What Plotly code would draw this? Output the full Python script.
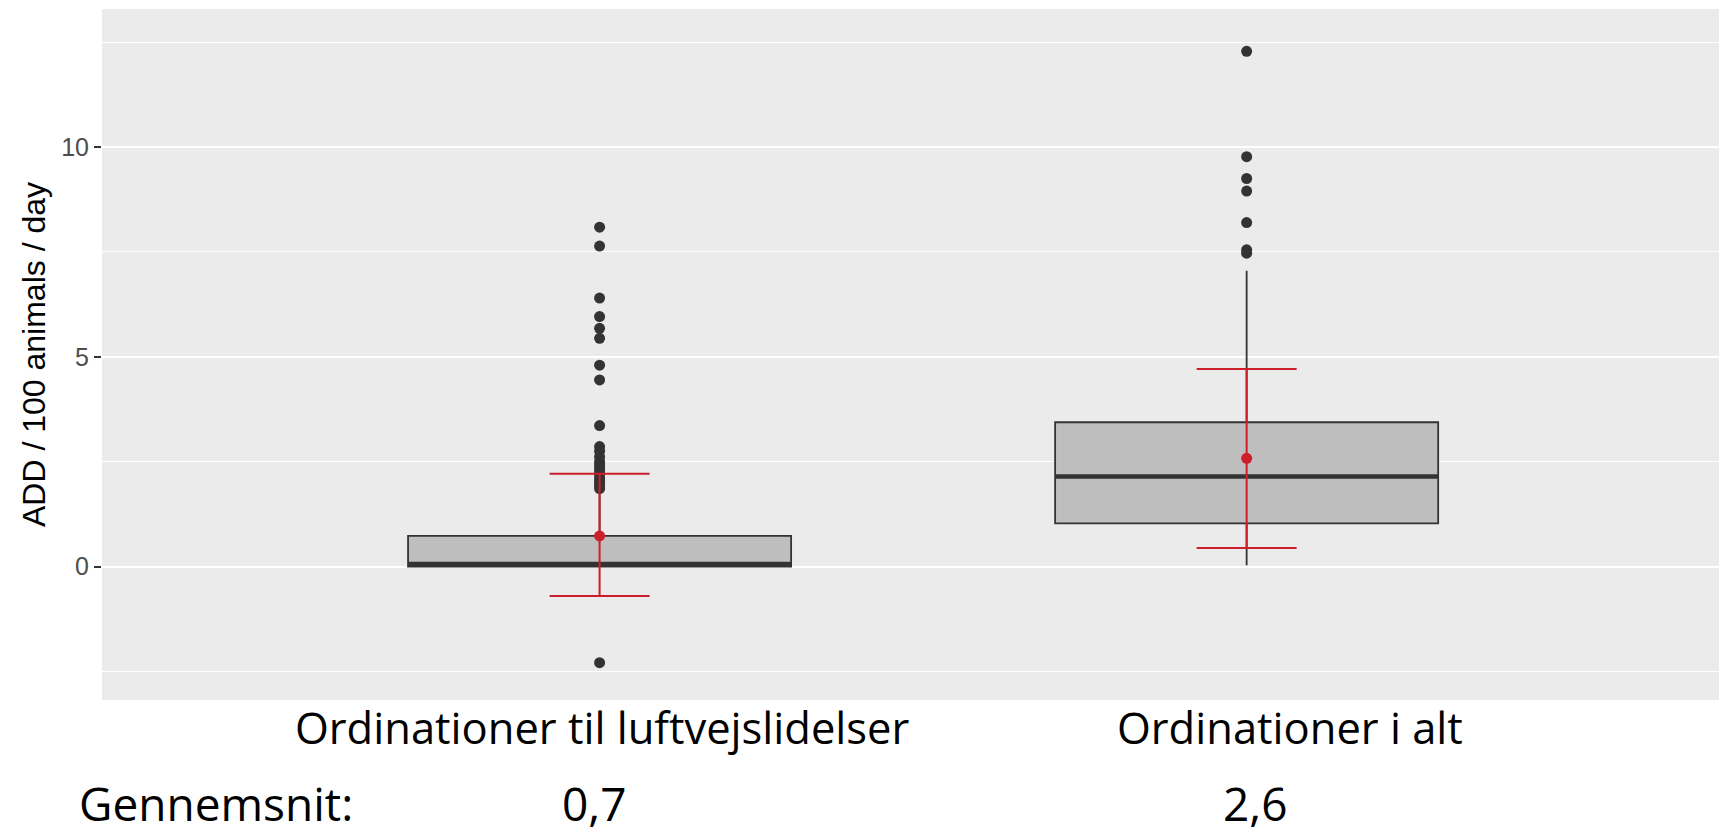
import plotly.graph_objects as go

# ---------------- data ----------------
categories = ["Ordinationer til luftvejslidelser", "Ordinationer i alt"]
cat_pos = [1, 2]
mean_labels = ["0,7", "2,6"]

q1 = [0.0, 1.03]
median = [0.06, 2.15]
q3 = [0.73, 3.44]
lower_whisker = [0.0, 0.03]
upper_whisker = [1.78, 7.05]

outliers_1 = [8.09, 7.64, 6.40, 5.96, 5.68, 5.44, 4.80, 4.45, 3.36, 2.86, 2.75, 2.62,
              2.50, 2.42, 2.35, 2.27, 2.20, 2.12, 2.05, 1.98, 1.92, 1.86, -2.29]
outliers_2 = [12.28, 9.77, 9.25, 8.95, 8.20, 7.55, 7.47]

means = [0.73, 2.58]
err_low = [-0.70, 0.44]
err_high = [2.21, 4.71]

y_ticks = [0, 5, 10]

# ---------------- style ----------------
BOX_W = 0.592
DARK = "#333333"
RED = "#CC1F2A"
LABEL_SHIFT = [2, 43]
MEAN_SHIFT = [-5, 9]

fig = go.Figure()

for i in range(2):
    fig.add_trace(go.Box(
        x=[cat_pos[i]], q1=[q1[i]], median=[median[i]], q3=[q3[i]],
        lowerfence=[lower_whisker[i]], upperfence=[upper_whisker[i]],
        width=BOX_W, whiskerwidth=0, fillcolor="#BEBEBE",
        line=dict(color=DARK, width=1.8), boxpoints=False,
        showlegend=False, hoverinfo="skip",
    ))
    # thicker median line (ggplot style)
    fig.add_trace(go.Scatter(
        x=[cat_pos[i] - BOX_W / 2, cat_pos[i] + BOX_W / 2],
        y=[median[i], median[i]], mode="lines",
        line=dict(color=DARK, width=4.5), showlegend=False, hoverinfo="skip",
    ))

out_x = [cat_pos[0]] * len(outliers_1) + [cat_pos[1]] * len(outliers_2)
out_y = outliers_1 + outliers_2
fig.add_trace(go.Scatter(
    x=out_x, y=out_y, mode="markers",
    marker=dict(color=DARK, size=11, line=dict(width=0)),
    showlegend=False, hoverinfo="skip",
))

fig.add_trace(go.Scatter(
    x=cat_pos, y=means, mode="markers",
    marker=dict(color=RED, size=11, line=dict(width=0)),
    error_y=dict(type="data", symmetric=False,
                 array=[h - m for h, m in zip(err_high, means)],
                 arrayminus=[m - l for m, l in zip(means, err_low)],
                 color=RED, thickness=2, width=50),
    showlegend=False, hoverinfo="skip",
))

# text below the panel
for i in range(2):
    fig.add_annotation(x=cat_pos[i], y=-0.04, xref="x", yref="paper",
                       text=categories[i], showarrow=False,
                       font=dict(family="Open Sans", size=43.5, color="black"),
                       xanchor="center", yanchor="middle", xshift=LABEL_SHIFT[i])
    fig.add_annotation(x=cat_pos[i], y=-0.149, xref="x", yref="paper",
                       text=mean_labels[i], showarrow=False,
                       font=dict(family="Open Sans", size=46, color="black"),
                       xanchor="center", yanchor="middle", xshift=MEAN_SHIFT[i])
fig.add_annotation(x=-0.0155, y=-0.149, xref="paper", yref="paper",
                   text="Gennemsnit:", showarrow=False,
                   font=dict(family="Open Sans", size=46, color="black"),
                   xanchor="left", yanchor="middle")

fig.update_layout(
    width=1719, height=835, autosize=False,
    margin=dict(l=102, r=0, t=9, b=135),
    paper_bgcolor="white", plot_bgcolor="#EBEBEB",
    showlegend=False,
    xaxis=dict(range=[0.231, 2.730], showgrid=False, zeroline=False,
               showticklabels=False, ticks="", fixedrange=True),
    yaxis=dict(range=[-3.18, 13.29], tickmode="array", tickvals=y_ticks,
               ticktext=[str(v) for v in y_ticks],
               showgrid=True, gridcolor="white", gridwidth=2.2, zeroline=False,
               ticks="outside", ticklen=7, tickwidth=1.6, tickcolor=DARK,
               tickfont=dict(family="Liberation Sans", size=25, color="#4D4D4D"),
               minor=dict(tickmode="array", tickvals=[-2.5, 2.5, 7.5, 12.5],
                          showgrid=True, gridcolor="white", gridwidth=1.1, ticks=""),
               title=dict(text="ADD / 100 animals / day", standoff=5,
                          font=dict(family="Liberation Sans", size=32, color="black")),
               fixedrange=True),
)

fig.write_html("out.html", config={"displayModeBar": False},
               post_script="document.body.style.margin='0';")
